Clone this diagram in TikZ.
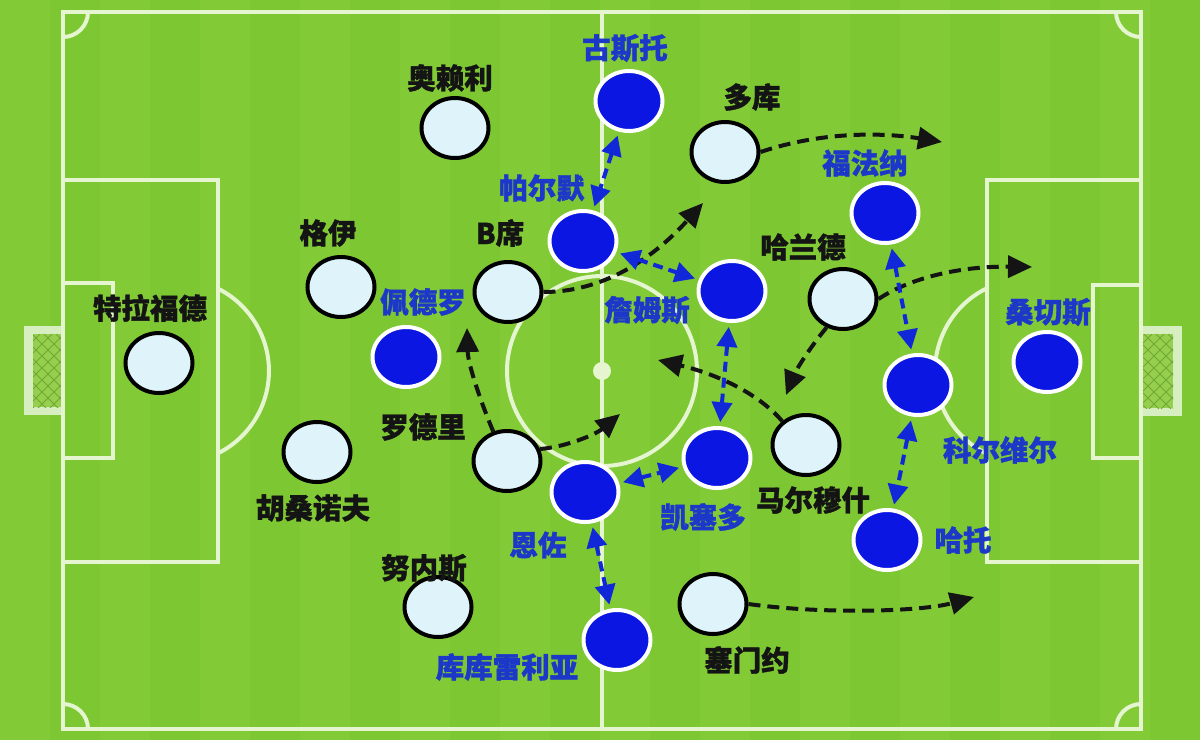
\documentclass[tikz,border=0pt]{standalone}
\usepackage{fontspec}
\newfontfamily\cjk{Noto Sans CJK SC}[FakeBold=1.2]
\usetikzlibrary{shapes.geometric,arrows.meta}
\definecolor{grassA}{RGB}{124,199,50}
\definecolor{grassB}{RGB}{130,203,55}
\definecolor{linecol}{RGB}{228,245,208}
\definecolor{goalframe}{RGB}{214,238,192}
\definecolor{netfill}{RGB}{150,206,78}
\definecolor{netline}{RGB}{110,170,50}
\definecolor{litefill}{RGB}{222,244,250}
\definecolor{bluefill}{RGB}{12,22,226}
\definecolor{bluetext}{RGB}{28,56,200}
\definecolor{arrowblue}{RGB}{16,40,215}
\begin{document}
\begin{tikzpicture}[x=1pt,y=1pt,
  pline/.style={draw=linecol,line width=4pt},
  lite/.style={ellipse,draw=black,fill=litefill,line width=4pt,minimum width=67pt,minimum height=60pt,inner sep=0pt},
  blu/.style={ellipse,draw=white,fill=bluefill,line width=4pt,minimum width=67pt,minimum height=60pt,inner sep=0pt},
  blackname/.style={font=\cjk\bfseries\fontsize{28.5}{28.5}\selectfont,text=black!92,inner sep=0pt},
  bluename/.style={font=\cjk\bfseries\fontsize{28.5}{28.5}\selectfont,text=bluetext,inner sep=0pt},
  run/.style={draw=black!92,line width=4pt,dash pattern=on 12pt off 7pt,-{Triangle[length=24pt,width=22pt]}},
  swap/.style={draw=arrowblue,line width=4pt,dash pattern=on 10pt off 6pt,{Triangle[length=20pt,width=20pt]}-{Triangle[length=20pt,width=20pt]},shorten <=4pt,shorten >=4pt}]
\useasboundingbox (0,0) rectangle (1200,-740);
% grass
\fill[grassA] (0,0) rectangle (1200,-740);
\foreach \x in {0,100,...,1100} \fill[grassB] (\x,0) rectangle ++(50,-740);
% goals
\fill[goalframe] (24,-326) rectangle (63,-415);
\fill[goalframe] (1141,-326) rectangle (1182,-416);
\begin{scope}
\clip (33,-334) rectangle (61,-407);
\fill[netfill] (33,-334) rectangle (61,-407);
\foreach \k in {-100,-88,...,160} {
  \draw[netline,line width=1pt] (0,{-330-(\k)}) -- ++(100,-100);
  \draw[netline,line width=1pt] (0,{-330-(\k)}) -- ++(100,100);
}
\end{scope}
\begin{scope}
\clip (1143,-334) rectangle (1173,-408);
\fill[netfill] (1143,-334) rectangle (1173,-408);
\foreach \k in {-100,-88,...,160} {
  \draw[netline,line width=1pt] (1100,{-330-(\k)}) -- ++(100,-100);
  \draw[netline,line width=1pt] (1100,{-330-(\k)}) -- ++(100,100);
}
\end{scope}
% pitch lines
\draw[pline] (63,-12) rectangle (1141,-729);
\draw[pline] (602,-12) -- (602,-729);
\draw[pline] (602,-371) circle[radius=95];
\fill[linecol] (602,-371) circle[radius=9];
\draw[pline] (63,-180) rectangle (218,-562);
\draw[pline] (987,-180) rectangle (1141,-562);
\draw[pline] (63,-283) rectangle (113,-458);
\draw[pline] (1093,-285) rectangle (1141,-458);
\draw[pline] (218,-453.3) arc[start angle=-63.5,end angle=63.5,radius=92];
\draw[pline] (986,-288.7) arc[start angle=116.5,end angle=243.5,radius=92];
\draw[pline] (88,-12) arc[start angle=0,end angle=-90,radius=25];
\draw[pline] (1116,-12) arc[start angle=180,end angle=270,radius=25];
\draw[pline] (63,-704) arc[start angle=90,end angle=0,radius=25];
\draw[pline] (1141,-704) arc[start angle=90,end angle=180,radius=25];
% light players
\node[lite] (trafford) at (159,-363) {};
\node[lite] (guehi) at (341,-287) {};
\node[lite] (oreilly) at (455,-128) {};
\node[lite] (bsilva) at (508,-292) {};
\node[lite] (khusanov) at (317,-452) {};
\node[lite] (rodri) at (507,-461) {};
\node[lite] (nunes) at (438,-607) {};
\node[lite] (doku) at (725,-152) {};
\node[lite] (haaland) at (843,-299) {};
\node[lite] (marmoush) at (806,-445) {};
\node[lite] (semenyo) at (713,-604) {};
% blue players
\node[blu] (gusto) at (629,-101) {};
\node[blu] (palmer) at (583,-241) {};
\node[blu] (pedro) at (406,-357) {};
\node[blu] (james) at (732,-291) {};
\node[blu] (caicedo) at (717,-458) {};
\node[blu] (enzo) at (585,-492) {};
\node[blu] (cucurella) at (617,-640) {};
\node[blu] (fofana) at (885,-213) {};
\node[blu] (colwill) at (918,-385) {};
\node[blu] (hato) at (887,-540) {};
\node[blu] (sanchez) at (1047,-362) {};
% names
\node[blackname] (n-trafford) at (150,-308) {特拉福德};
\node[blackname] (n-guehi) at (328,-233) {格伊};
\node[blackname] (n-oreilly) at (450,-78) {奥赖利};
\node[blackname] (n-bsilva) at (500,-233) {B席};
\node[blackname] (n-khusanov) at (313,-508) {胡桑诺夫};
\node[blackname] (n-rodri) at (423,-427) {罗德里};
\node[blackname] (n-nunes) at (424,-568) {努内斯};
\node[blackname] (n-doku) at (752,-97) {多库};
\node[blackname] (n-haaland) at (803,-247) {哈兰德};
\node[blackname] (n-marmoush) at (813,-500) {马尔穆什};
\node[blackname] (n-semenyo) at (747,-660) {塞门约};
\node[bluename] (n-gusto) at (625,-48) {古斯托};
\node[bluename] (n-palmer) at (542,-188) {帕尔默};
\node[bluename] (n-pedro) at (423,-302) {佩德罗};
\node[bluename] (n-james) at (647,-310) {詹姆斯};
\node[bluename] (n-caicedo) at (703,-517) {凯塞多};
\node[bluename] (n-enzo) at (538,-545) {恩佐};
\node[bluename] (n-cucurella) at (507,-667) {库库雷利亚};
\node[bluename] (n-fofana) at (865,-163) {福法纳};
\node[bluename] (n-colwill) at (1000,-450) {科尔维尔};
\node[bluename] (n-hato) at (963,-540) {哈托};
\node[bluename] (n-sanchez) at (1048,-312) {桑切斯};
% run targets
\coordinate (tB) at (703,-203);
\coordinate (tD) at (942,-142);
\coordinate (tH1) at (1032,-267);
\coordinate (tH2) at (786,-395);
\coordinate (tM) at (658,-360);
\coordinate (tR1) at (467,-328);
\coordinate (tR2) at (620,-414);
\coordinate (tS) at (974,-597);
% runs
\draw[run] (bsilva.east) .. controls (600,-292) and (650,-262) .. (tB);
\draw[run] (doku.east) .. controls (820,-132) and (880,-132) .. (tD);
\draw[run] (haaland.east) .. controls (910,-278) and (960,-266) .. (tH1);
\draw[run] (haaland.240) .. controls (812,-345) and (797,-368) .. (tH2);
\draw[run] (marmoush.135) .. controls (760,-395) and (720,-375) .. (tM);
\draw[run] (rodri.115) .. controls (482,-405) and (468,-365) .. (tR1);
\draw[run] (rodri.20) .. controls (565,-447) and (595,-435) .. (tR2);
\draw[run] (semenyo.east) .. controls (820,-614) and (920,-612) .. (tS);
% swaps
\draw[swap] (gusto) -- (palmer);
\draw[swap] (palmer) -- (james);
\draw[swap] (james) -- (caicedo);
\draw[swap] (enzo) -- (caicedo);
\draw[swap] (enzo) -- (cucurella);
\draw[swap] (fofana) -- (colwill);
\draw[swap] (colwill) -- (hato);
\end{tikzpicture}
\end{document}
